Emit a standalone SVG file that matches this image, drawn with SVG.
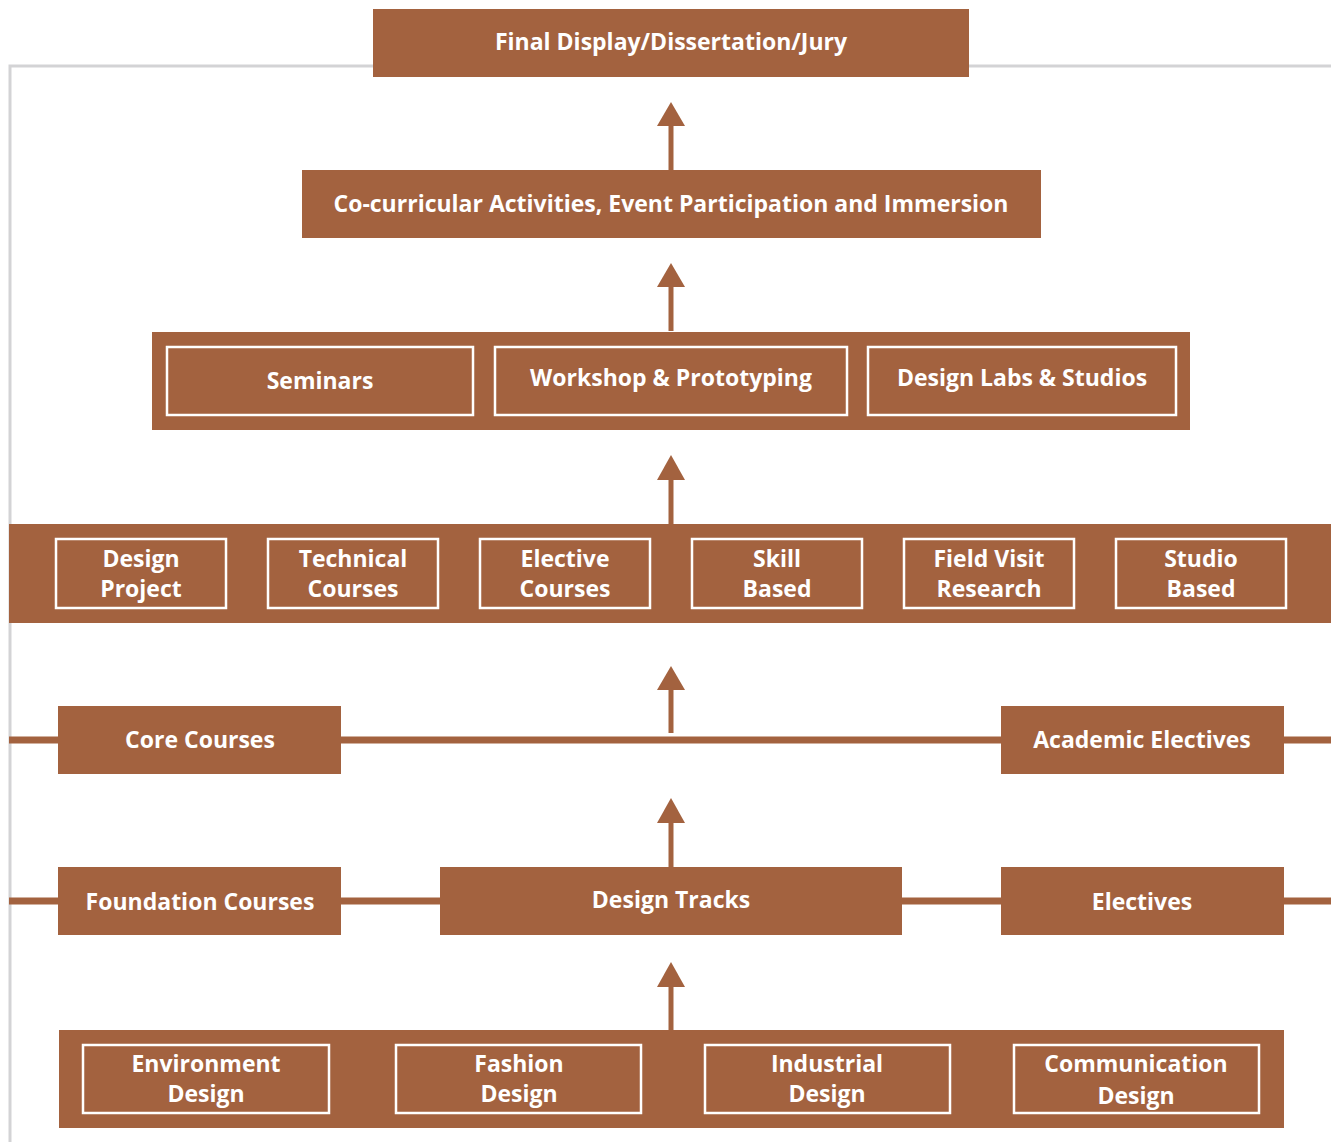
<svg xmlns="http://www.w3.org/2000/svg" width="1331" height="1142" viewBox="0 0 1331 1142">
<style>
.b{fill:#A3623F}
.i{fill:none;stroke:#FFFFFF;stroke-width:2.5}
.t{fill:#FFFFFF;font-family:"Open Sans","Noto Sans",sans-serif;font-weight:700;font-size:23px;text-anchor:middle}
.ln{stroke:#A3623F;stroke-width:7}
.sh{stroke:#A3623F;stroke-width:5}
</style>
<rect width="1331" height="1142" fill="#FFFFFF"/>
<path d="M10 1142 V66 H1331" fill="none" stroke="#D3D3D5" stroke-width="3"/>
<g id="connectors">
<line class="ln" x1="9" y1="740" x2="1331" y2="740"/>
<line class="ln" x1="9" y1="901" x2="1331" y2="901"/>
<path d="M671 170 V126" class="sh"/><path d="M671 102 L685 126 L657 126 Z" class="b"/>
<path d="M671 331 V287" class="sh"/><path d="M671 263 L685 287 L657 287 Z" class="b"/>
<path d="M671 524 V480" class="sh"/><path d="M671 455 L685 480 L657 480 Z" class="b"/>
<path d="M671 733 V690" class="sh"/><path d="M671 666 L685 690 L657 690 Z" class="b"/>
<path d="M671 867 V823" class="sh"/><path d="M671 798 L685 823 L657 823 Z" class="b"/>
<path d="M671 1030 V987" class="sh"/><path d="M671 962 L685 987 L657 987 Z" class="b"/>
</g>
<g id="final"><rect class="b" x="373" y="9" width="596" height="68"/><text class="t" x="671" y="50">Final Display/Dissertation/Jury</text></g>
<g id="cocurricular"><rect class="b" x="302" y="170" width="739" height="68"/><text class="t" x="671" y="212">Co-curricular Activities, Event Participation and Immersion</text></g>
<g id="seminars-panel"><rect class="b" x="152" y="332" width="1038" height="98"/></g>
<g id="seminars"><rect class="i" x="167" y="347" width="306" height="68"/><text class="t" x="320" y="389">Seminars</text></g>
<g id="workshop"><rect class="i" x="495" y="347" width="352" height="68"/><text class="t" x="671" y="386">Workshop &amp; Prototyping</text></g>
<g id="labs"><rect class="i" x="868" y="347" width="308" height="68"/><text class="t" x="1022" y="386">Design Labs &amp; Studios</text></g>
<g id="courses-panel"><rect class="b" x="9" y="524" width="1322" height="99"/></g>
<g id="design-project"><rect class="i" x="56" y="539" width="170" height="69"/><text class="t" x="141" y="567">Design</text><text class="t" x="141" y="597">Project</text></g>
<g id="technical"><rect class="i" x="268" y="539" width="170" height="69"/><text class="t" x="353" y="567">Technical</text><text class="t" x="353" y="597">Courses</text></g>
<g id="elective"><rect class="i" x="480" y="539" width="170" height="69"/><text class="t" x="565" y="567">Elective</text><text class="t" x="565" y="597">Courses</text></g>
<g id="skill"><rect class="i" x="692" y="539" width="170" height="69"/><text class="t" x="777" y="567">Skill</text><text class="t" x="777" y="597">Based</text></g>
<g id="field"><rect class="i" x="904" y="539" width="170" height="69"/><text class="t" x="989" y="567">Field Visit</text><text class="t" x="989" y="597">Research</text></g>
<g id="studio"><rect class="i" x="1116" y="539" width="170" height="69"/><text class="t" x="1201" y="567">Studio</text><text class="t" x="1201" y="597">Based</text></g>
<g id="core"><rect class="b" x="58" y="706" width="283" height="68"/><text class="t" x="200" y="748">Core Courses</text></g>
<g id="academic"><rect class="b" x="1001" y="706" width="283" height="68"/><text class="t" x="1142" y="748">Academic Electives</text></g>
<g id="foundation"><rect class="b" x="58" y="867" width="283" height="68"/><text class="t" x="200" y="910">Foundation Courses</text></g>
<g id="tracks"><rect class="b" x="440" y="867" width="462" height="68"/><text class="t" x="671" y="908">Design Tracks</text></g>
<g id="electives"><rect class="b" x="1001" y="867" width="283" height="68"/><text class="t" x="1142" y="910">Electives</text></g>
<g id="tracks-panel"><rect class="b" x="59" y="1030" width="1225" height="98"/></g>
<g id="environment"><rect class="i" x="83" y="1045" width="246" height="68"/><text class="t" x="206" y="1072">Environment</text><text class="t" x="206" y="1102">Design</text></g>
<g id="fashion"><rect class="i" x="396" y="1045" width="245" height="68"/><text class="t" x="519" y="1072">Fashion</text><text class="t" x="519" y="1102">Design</text></g>
<g id="industrial"><rect class="i" x="705" y="1045" width="245" height="68"/><text class="t" x="827" y="1072">Industrial</text><text class="t" x="827" y="1102">Design</text></g>
<g id="communication"><rect class="i" x="1014" y="1045" width="245" height="68"/><text class="t" x="1136" y="1072">Communication</text><text class="t" x="1136" y="1104">Design</text></g>
</svg>
